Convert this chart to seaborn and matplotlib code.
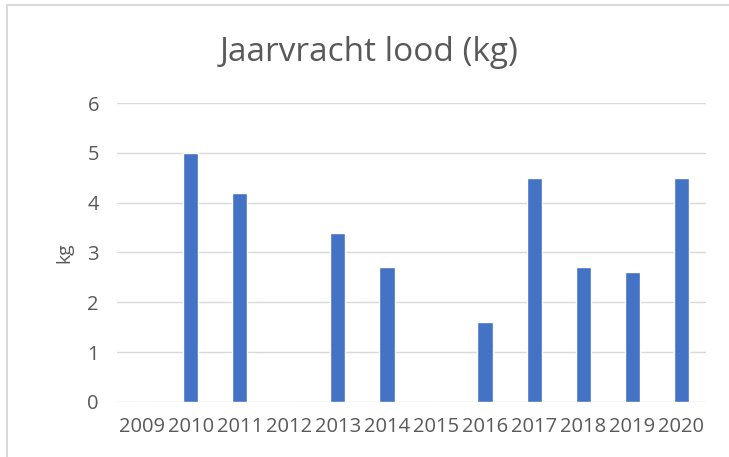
import matplotlib
matplotlib.use("Agg")
import matplotlib.pyplot as plt
import seaborn as sns
import pandas as pd
from matplotlib.patches import Rectangle

years = ["2009", "2010", "2011", "2012", "2013", "2014", "2015", "2016", "2017", "2018", "2019", "2020"]
values = [0, 5.0, 4.2, 0, 3.4, 2.7, 0, 1.6, 4.5, 2.7, 2.6, 4.5]
yticks = [0, 1, 2, 3, 4, 5, 6]

df = pd.DataFrame({"jaar": years, "kg": values})

sns.set_theme(style="white")
plt.rcParams["font.family"] = ["Open Sans", "DejaVu Sans"]

fig = plt.figure(figsize=(7.29, 4.57), dpi=100)
ax = fig.add_axes([0.1605, 0.1204, 0.8079, 0.6542])

sns.barplot(data=df, x="jaar", y="kg", color="#4472C4", width=0.31, ax=ax, saturation=1)

ax.set_xlim(-0.5, 11.5)
ax.set_ylim(0, 6)
ax.set_yticks(yticks)
ax.yaxis.grid(True, color="#D9D9D9", linewidth=1)
ax.set_axisbelow(True)
for s in ax.spines.values():
    s.set_visible(False)
ax.tick_params(axis="both", length=0, colors="#595959", labelsize=14.5)
ax.tick_params(axis="y", pad=13)
ax.tick_params(axis="x", pad=11)
ax.set_xlabel("")
ax.set_ylabel("kg", color="#595959", fontsize=14, labelpad=10)
fig.text(0.507, 0.886, "Jaarvracht lood (kg)", ha="center", va="center", fontsize=24, color="#595959")

fig.patches.append(Rectangle((7 / 729, -0.1), 1.2, 1 - 5 / 457 + 0.1, transform=fig.transFigure,
                             fill=False, edgecolor="#D9D9D9", linewidth=1.5))

fig.savefig("out.png", dpi=100)
